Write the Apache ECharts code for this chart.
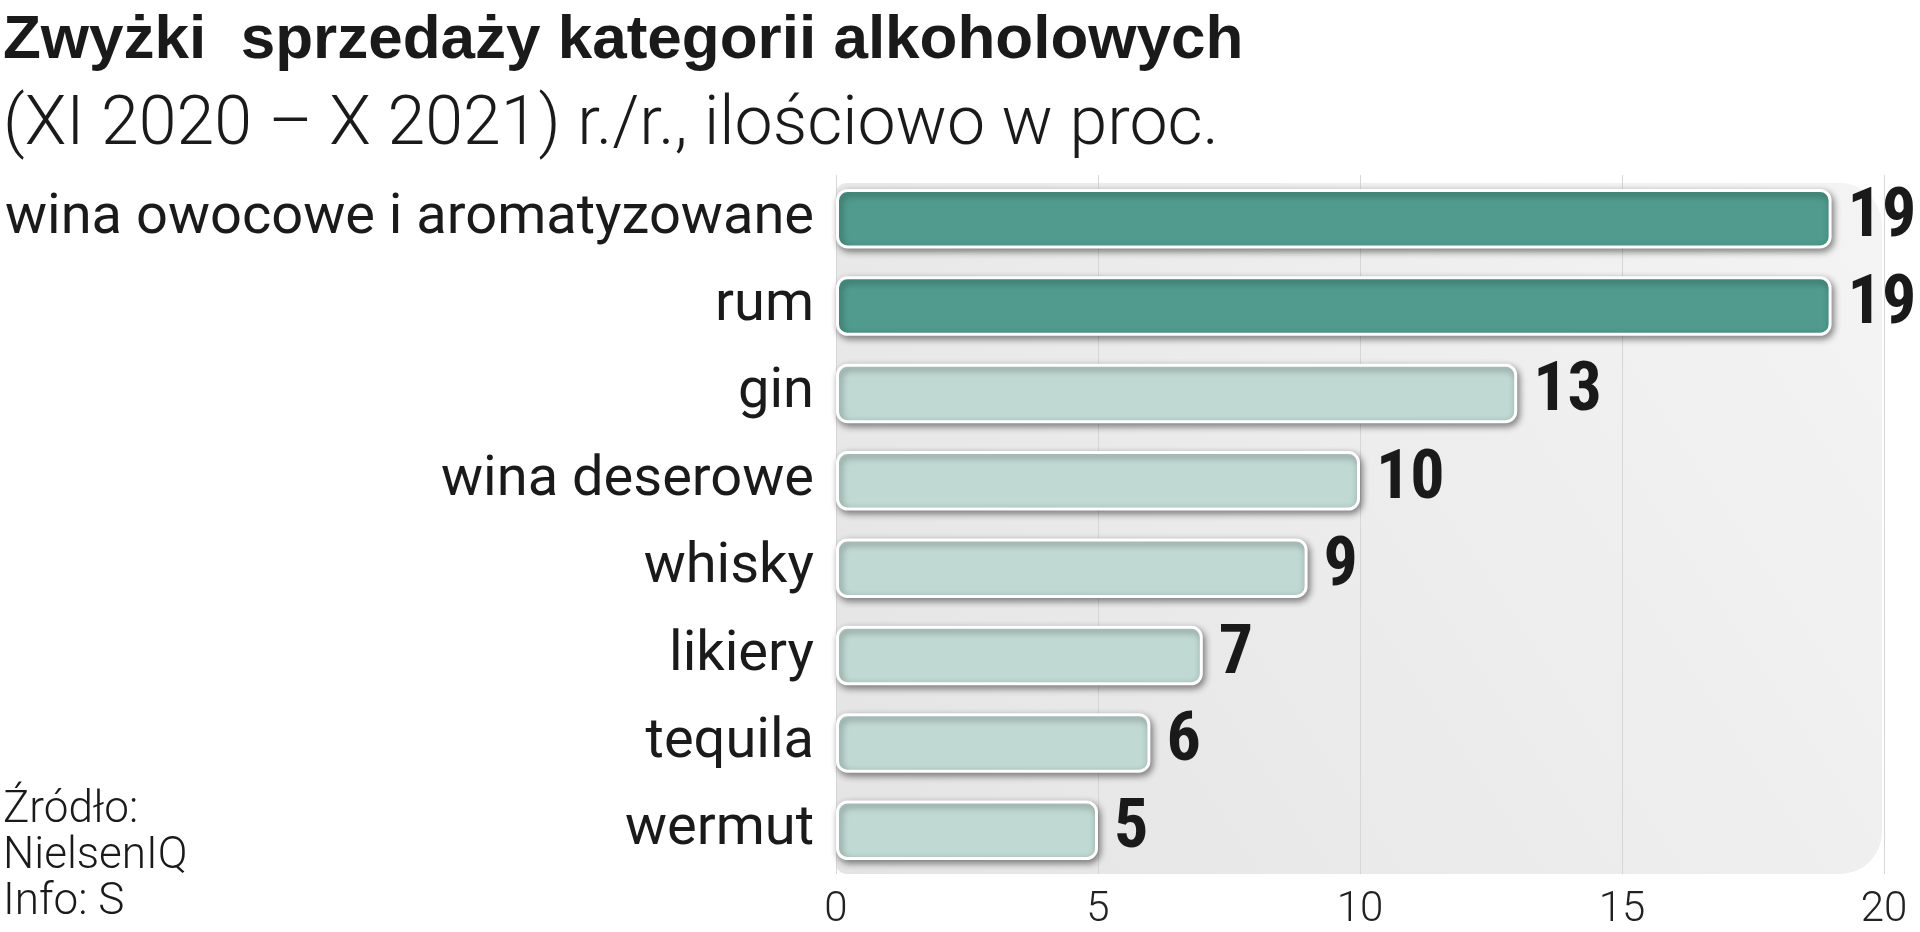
<!DOCTYPE html>
<html>
<head>
<meta charset="utf-8">
<script src="https://cdn.jsdelivr.net/npm/echarts@6/dist/echarts.min.js"></script>
<style>
html,body{margin:0;padding:0;background:#fff;}
#c{width:1920px;height:932px;}
</style>
</head>
<body>
<div id="c"></div>
<script>
const titleText = 'Zwyżki  sprzedaży kategorii alkoholowych';
const subtitleText = '(XI 2020 – X 2021) r./r., ilościowo w proc.';
const sourceText = 'Źródło:\nNielsenIQ\nInfo: S';
const categories = ['wina owocowe i aromatyzowane','rum','gin','wina deserowe','whisky','likiery','tequila','wermut'];
const values = [19,19,13,10,9,7,6,5];
const axisTicks = [0,5,10,15,20];

const DARK = '#509b8e';
const LIGHT = '#c0d9d3';
const TEXT = '#1a1a1a';
const maxVal = Math.max(...values);

const G = {left:836, right:36, top:175, bottom:58};
const W = 1920, H = 932;
const gw = W - G.left - G.right, gh = H - G.top - G.bottom;

const chart = echarts.init(document.getElementById('c'), null, {renderer:'canvas'});
chart.setOption({
  backgroundColor:'#ffffff',
  animation:false,
  title:[
    {text:titleText,left:3,top:10,padding:0,textStyle:{fontFamily:'"Liberation Sans", Arial, sans-serif',fontWeight:'bold',fontSize:62,color:TEXT}},
    {text:subtitleText,left:3,top:93,padding:0,textStyle:{fontFamily:'Roboto, sans-serif',fontWeight:300,fontSize:68,color:TEXT}},
    {text:sourceText,left:3,bottom:6,padding:0,textStyle:{fontFamily:'Roboto, sans-serif',fontWeight:300,fontSize:44,lineHeight:46,color:TEXT}}
  ],
  graphic:[{
    type:'rect',z:-10,silent:true,
    shape:{x:G.left,y:G.top+8,width:gw-2,height:gh-8,r:[10,42,42,10]},
    style:{fill:new echarts.graphic.LinearGradient(0,1,1,0,[{offset:0,color:'#e4e4e4'},{offset:1,color:'#f4f4f4'}])}
  }],
  grid:{left:G.left,right:G.right,top:G.top,bottom:G.bottom,containLabel:false,outerBoundsMode:'none'},
  xAxis:{
    type:'value',min:axisTicks[0],max:axisTicks[axisTicks.length-1],interval:axisTicks[1]-axisTicks[0],
    axisLine:{show:false},axisTick:{show:false},
    splitLine:{show:true,lineStyle:{color:'#d6d6d6',width:1}},
    axisLabel:{margin:15,fontFamily:'Roboto, sans-serif',fontWeight:300,fontSize:42,color:'#222',
      showMinLabel:true,showMaxLabel:true}
  },
  yAxis:{
    type:'category',data:categories,inverse:true,
    axisLine:{show:false},axisTick:{show:false},splitLine:{show:false},
    axisLabel:{margin:22,fontFamily:'Roboto, sans-serif',fontWeight:400,fontSize:56,color:TEXT}
  },
  series:[{
    type:'bar',data:values,barWidth:'68%',
    itemStyle:{
      color:(p)=> p.value===maxVal ? DARK : LIGHT,
      borderColor:'#ffffff',borderWidth:3,borderRadius:10,
      shadowColor:'rgba(0,0,0,0.45)',shadowBlur:7,shadowOffsetX:2,shadowOffsetY:3
    },
    label:{show:true,position:'right',distance:16,
      fontFamily:'"Roboto Condensed", "Liberation Sans Narrow", "DejaVu Sans Condensed", sans-serif',
      fontWeight:'bold',fontSize:68,color:TEXT}
  }]
});
</script>
</body>
</html>
